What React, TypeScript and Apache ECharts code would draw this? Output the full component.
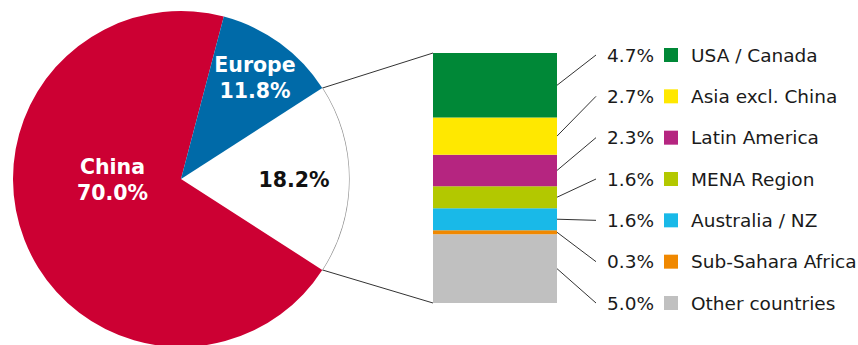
import React, { useEffect, useRef } from "react";
import * as echarts from "echarts";

const pieNames = ["Rest of world", "China", "Europe"];
const pieValues = [18.2, 70.0, 11.8];
const pieColors = ["#ffffff", "#cc0033", "#006aa8"];
const pieLabelColors = ["#111111", "#ffffff", "#ffffff"];

const breakdownNames = [
  "USA / Canada",
  "Asia excl. China",
  "Latin America",
  "MENA Region",
  "Australia / NZ",
  "Sub-Sahara Africa",
  "Other countries",
];
const breakdownValues = [4.7, 2.7, 2.3, 1.6, 1.6, 0.3, 5.0];
const breakdownColors = ["#008837", "#ffe800", "#b52580", "#b3c800", "#19b9e8", "#f08800", "#c0c0c0"];

const W = 858;
const H = 345;
const CX = 181;
const CY = 179;
const R = 168;
const GRID_LEFT = 433;
const GRID_WIDTH = 124;
const GRID_TOP = 53;
const GRID_BOTTOM = 42;
const FONT = "DejaVu Sans";

export default function App() {
  const ref = useRef<HTMLDivElement>(null);
  useEffect(() => {
    if (!ref.current) return;
    const chart = echarts.init(ref.current, null, { renderer: "svg" });
    const total = breakdownValues.reduce((a, b) => a + b, 0);
    const pieTotal = pieValues.reduce((a, b) => a + b, 0);
    const halfDeg = (pieValues[0] / pieTotal) * 180;
    // label anchor relative to the pie centre
    const labelAt: Record<number, [number, number]> = {
      0: [113, 1],
      1: [-68.5, 1],
      2: [74, -101],
    };

    const barSeries = breakdownValues
      .map((v, i) => ({ v, i }))
      .reverse()
      .map(({ v, i }) => ({
        type: "bar",
        name: breakdownNames[i],
        stack: "all",
        barWidth: "100%",
        data: [v],
        itemStyle: { color: breakdownColors[i] },
        silent: true,
      }));

    chart.setOption({
      animation: false,
      grid: { left: GRID_LEFT, width: GRID_WIDTH, top: GRID_TOP, bottom: GRID_BOTTOM },
      xAxis: { type: "category", data: ["x"], show: false },
      yAxis: { type: "value", min: 0, max: total, show: false },
      series: [
        {
          type: "pie",
          center: [CX, CY],
          radius: [0, R],
          startAngle: halfDeg,
          clockwise: true,
          silent: true,
          data: pieNames.map((n, i) => ({
            name: n,
            value: pieValues[i],
            itemStyle: { color: pieColors[i] },
            label: { color: pieLabelColors[i] },
          })),
          label: {
            show: true,
            position: "inside",
            fontFamily: FONT,
            fontWeight: "bold",
            fontSize: 20.5,
            lineHeight: 26,
            align: "center",
            verticalAlign: "middle",
            formatter: (p: any) =>
              p.dataIndex === 0 ? `${p.value.toFixed(1)}%` : `${p.name}\n${p.value.toFixed(1)}%`,
          },
          labelLayout: (p: any) => {
            const s = labelAt[p.dataIndex] || [0, 0];
            return { x: CX + s[0], y: CY + s[1], align: "center", verticalAlign: "middle" };
          },
          labelLine: { show: false },
        },
        ...barSeries,
      ],
    });

    const a = (halfDeg * Math.PI) / 180;
    const px = CX + R * Math.cos(a);
    const pyTop = CY - R * Math.sin(a);
    const pyBot = CY + R * Math.sin(a);
    const yTop = chart.convertToPixel({ yAxisIndex: 0 }, total) as number;
    const yBot = chart.convertToPixel({ yAxisIndex: 0 }, 0) as number;
    const barRight = GRID_LEFT + GRID_WIDTH;
    const rowTop = yTop + 2;
    const rowStep = (yBot - rowTop) / (breakdownValues.length - 1);
    const lineStyle = { stroke: "#333333", lineWidth: 1 };

    const graphics: any[] = [
      {
        type: "arc",
        shape: { cx: CX, cy: CY, r: R, startAngle: -a, endAngle: a, clockwise: true },
        style: { stroke: "#909090", lineWidth: 1.2, fill: null },
        silent: true,
      },
      { type: "line", shape: { x1: px, y1: pyTop, x2: GRID_LEFT, y2: yTop }, style: lineStyle, silent: true },
      { type: "line", shape: { x1: px, y1: pyBot, x2: GRID_LEFT, y2: yBot }, style: lineStyle, silent: true },
    ];

    let cum = 0;
    breakdownValues.forEach((v, i) => {
      const mid = total - (cum + v / 2);
      cum += v;
      const my = chart.convertToPixel({ yAxisIndex: 0 }, mid) as number;
      const ry = rowTop + i * rowStep;
      graphics.push({
        type: "line",
        shape: { x1: barRight, y1: my, x2: 596, y2: ry },
        style: lineStyle,
        silent: true,
      });
      graphics.push({
        type: "text",
        x: 654,
        y: ry,
        style: {
          text: `${v.toFixed(1)}%`,
          fontFamily: FONT,
          fontSize: 18.5,
          fill: "#1a1a1a",
          align: "right",
          verticalAlign: "middle",
        },
        silent: true,
      });
      graphics.push({
        type: "rect",
        shape: { x: 664, y: ry - 7, width: 14, height: 14 },
        style: { fill: breakdownColors[i] },
        silent: true,
      });
      graphics.push({
        type: "text",
        x: 691,
        y: ry,
        style: {
          text: breakdownNames[i],
          fontFamily: FONT,
          fontSize: 18.5,
          fill: "#1a1a1a",
          align: "left",
          verticalAlign: "middle",
        },
        silent: true,
      });
    });

    chart.setOption({ graphic: graphics });
    return () => chart.dispose();
  }, []);

  return (
    <div
      ref={ref}
      style={{ position: "fixed", left: 0, top: 0, width: W, height: H, background: "#ffffff" }}
    />
  );
}
